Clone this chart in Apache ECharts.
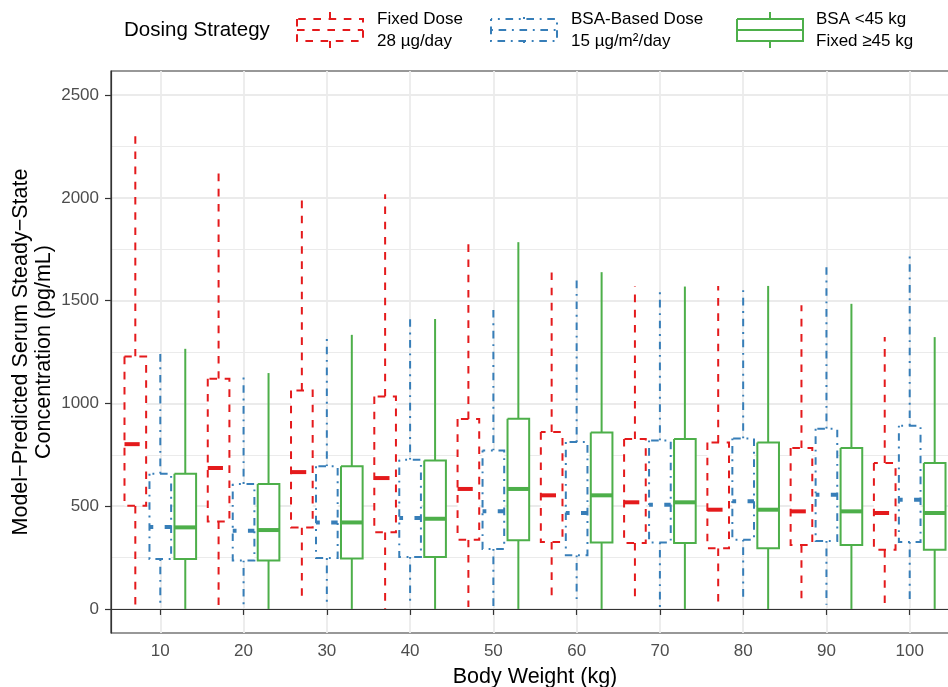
<!DOCTYPE html>
<html>
<head>
<meta charset="utf-8">
<script src="https://cdn.jsdelivr.net/npm/echarts@6/dist/echarts.min.js"></script>
<style>
html, body { margin: 0; padding: 0; background: #fff; }
#main { width: 948px; height: 687px; }
</style>
</head>
<body>
<div id="main"></div>
<script>
var weights = [10, 20, 30, 40, 50, 60, 70, 80, 90, 100];

// each row: [lower whisker, Q1, median, Q3, upper whisker]
var fixedDose = [
  [5, 502, 802, 1228, 2317],
  [0, 426, 686, 1120, 2134],
  [29, 397, 666, 1063, 2007],
  [0, 373, 637, 1034, 2018],
  [10, 337, 584, 924, 1783],
  [37, 326, 553, 861, 1639],
  [37, 321, 519, 827, 1569],
  [0, 295, 483, 810, 1572],
  [26, 311, 475, 783, 1478],
  [10, 288, 467, 710, 1323]
];
var bsaDose = [
  [9, 243, 399, 658, 1269],
  [0, 236, 381, 608, 1140],
  [13, 248, 421, 694, 1334],
  [21, 253, 443, 726, 1410],
  [0, 292, 475, 771, 1456],
  [29, 261, 467, 812, 1607],
  [0, 324, 507, 820, 1548],
  [37, 337, 524, 830, 1556],
  [21, 331, 556, 877, 1671],
  [21, 326, 531, 892, 1723]
];
var hybridDose = [
  [0, 243, 397, 658, 1266],
  [0, 236, 384, 608, 1148],
  [0, 245, 421, 694, 1334],
  [0, 253, 439, 723, 1411],
  [0, 334, 584, 926, 1785],
  [0, 324, 553, 859, 1639],
  [0, 321, 519, 827, 1569],
  [0, 295, 483, 810, 1572],
  [0, 311, 475, 783, 1485],
  [0, 288, 467, 710, 1323]
];

var yMajor = [0, 500, 1000, 1500, 2000, 2500];
var yMinor = [250, 750, 1250, 1750, 2250];

var RED = '#E41A1C', BLUE = '#377EB8', GREEN = '#4DAF4A';
var DASHED = [7.6, 7.6];
var DOTDASH = [1.9, 5.7, 7.6, 5.7];
var FONT = '"Liberation Sans", Arial, Helvetica, sans-serif';

var myChart = echarts.init(document.getElementById('main'));

function rows(stats) {
  return weights.map(function (w, i) { return [w].concat(stats[i]); });
}

function dbl(dash) {
  return dash ? dash.map(function (d) { return d * 2; }) : null;
}

// box + whiskers drawn like ggplot: whiskers first, then box (white fill), then median
function boxRenderer(shift, color, dash) {
  return function (params, api) {
    var w = api.value(0);
    var cx = api.coord([w + shift, 0])[0];
    var half = api.size([1.3, 0])[0];
    function py(k) { return api.coord([w, api.value(k)])[1]; }
    var lo = py(1), q1 = py(2), md = py(3), q3 = py(4), hi = py(5);
    var l = cx - half, r = cx + half;
    var st = { stroke: color, lineWidth: 2, lineDash: dash, fill: null };
    return {
      type: 'group',
      children: [
        { type: 'line', shape: { x1: cx, y1: q3, x2: cx, y2: hi }, style: st },
        { type: 'line', shape: { x1: cx, y1: q1, x2: cx, y2: lo }, style: st },
        { type: 'polyline', shape: { points: [[l, q3], [l, q1], [r, q1], [r, q3], [l, q3]] },
          style: { stroke: color, lineWidth: 2, lineDash: dash, fill: '#fff' } },
        { type: 'line', shape: { x1: l, y1: md, x2: r, y2: md },
          style: { stroke: color, lineWidth: 4, lineDash: dbl(dash) } }
      ]
    };
  };
}

function legendKey(x, color, dash) {
  var cx = x + 33;
  var st = { stroke: color, lineWidth: 2, lineDash: dash, fill: null };
  return [
    { type: 'line', shape: { x1: cx, y1: 19, x2: cx, y2: 12 }, style: st },
    { type: 'line', shape: { x1: cx, y1: 41, x2: cx, y2: 48 }, style: st },
    { type: 'polyline', shape: { points: [[x, 19], [x, 41], [x + 66, 41], [x + 66, 19], [x, 19]] }, style: st },
    { type: 'line', shape: { x1: x, y1: 30, x2: x + 66, y2: 30 }, style: st }
  ];
}

function legendText(x, text) {
  return { type: 'text', x: x, y: 30,
    style: { text: text, font: '17px ' + FONT, fill: '#000', verticalAlign: 'middle', lineHeight: 22 } };
}

var graphics = [
  { type: 'text', x: 124, y: 30,
    style: { text: 'Dosing Strategy', font: '20.5px ' + FONT, fill: '#000', verticalAlign: 'middle' } },
  legendText(377, 'Fixed Dose\n28 µg/day'),
  legendText(571, 'BSA-Based Dose\n15 µg/m²/day'),
  legendText(816, 'BSA <45 kg\nFixed ≥45 kg')
].concat(legendKey(297, RED, DASHED))
 .concat(legendKey(491, BLUE, DOTDASH))
 .concat(legendKey(737, GREEN, null));

var axisLabelStyle = { color: '#4D4D4D', fontSize: 17, fontFamily: FONT };
function plain(v) { return String(v); }

var option = {
  animation: false,
  backgroundColor: '#fff',
  textStyle: { fontFamily: FONT },
  graphic: graphics,
  grid: {
    left: 111, top: 71, right: -11, bottom: 54,
    containLabel: false, outerBoundsMode: 'none',
    show: true, borderColor: '#333', borderWidth: 1.2, backgroundColor: 'transparent'
  },
  xAxis: {
    type: 'value', min: 4.08, max: 105.92,
    name: 'Body Weight (kg)', nameLocation: 'middle', nameGap: 33, nameMoveOverlap: false,
    nameTextStyle: { fontSize: 21.5, color: '#000', fontFamily: FONT },
    axisLine: { show: true, lineStyle: { color: '#333', width: 1.2 } },
    axisTick: { show: true, length: 6, customValues: weights, lineStyle: { color: '#333', width: 1.2 } },
    axisLabel: Object.assign({ customValues: weights, margin: 10, formatter: plain }, axisLabelStyle),
    splitLine: { show: true, lineStyle: { color: '#EBEBEB', width: 1.8 } }
  },
  yAxis: [{
    type: 'value', min: -117, max: 2618,
    name: 'Model\u2212Predicted Serum Steady\u2212State\nConcentration (pg/mL)',
    nameLocation: 'middle', nameRotate: 90, nameGap: 55, nameMoveOverlap: false,
    nameTextStyle: { fontSize: 21.5, color: '#000', fontFamily: FONT, lineHeight: 23 },
    axisLine: { show: true, lineStyle: { color: '#333', width: 1.2 } },
    axisTick: { show: true, length: 6, customValues: yMajor, lineStyle: { color: '#333', width: 1.2 } },
    axisLabel: Object.assign({ customValues: yMajor, margin: 12, formatter: plain }, axisLabelStyle),
    splitLine: { show: true, lineStyle: { color: '#EBEBEB', width: 1.8 } }
  }, {
    type: 'value', min: -117, max: 2618, position: 'left',
    axisLine: { show: false }, axisLabel: { show: false },
    axisTick: { show: false, customValues: yMinor },
    splitLine: { show: true, lineStyle: { color: '#EBEBEB', width: 1 } }
  }],
  series: [
    { name: 'Fixed Dose', type: 'custom', renderItem: boxRenderer(-3, RED, DASHED),
      encode: { x: 0, y: [1, 2, 3, 4, 5] }, data: rows(fixedDose) },
    { name: 'BSA-Based Dose', type: 'custom', renderItem: boxRenderer(0, BLUE, DOTDASH),
      encode: { x: 0, y: [1, 2, 3, 4, 5] }, data: rows(bsaDose) },
    { name: 'BSA <45 kg / Fixed >=45 kg', type: 'custom', renderItem: boxRenderer(3, GREEN, null),
      encode: { x: 0, y: [1, 2, 3, 4, 5] }, data: rows(hybridDose) }
  ]
};

myChart.setOption(option);

window.onresize = function () {
  myChart.resize();
};
</script>
</body>
</html>
